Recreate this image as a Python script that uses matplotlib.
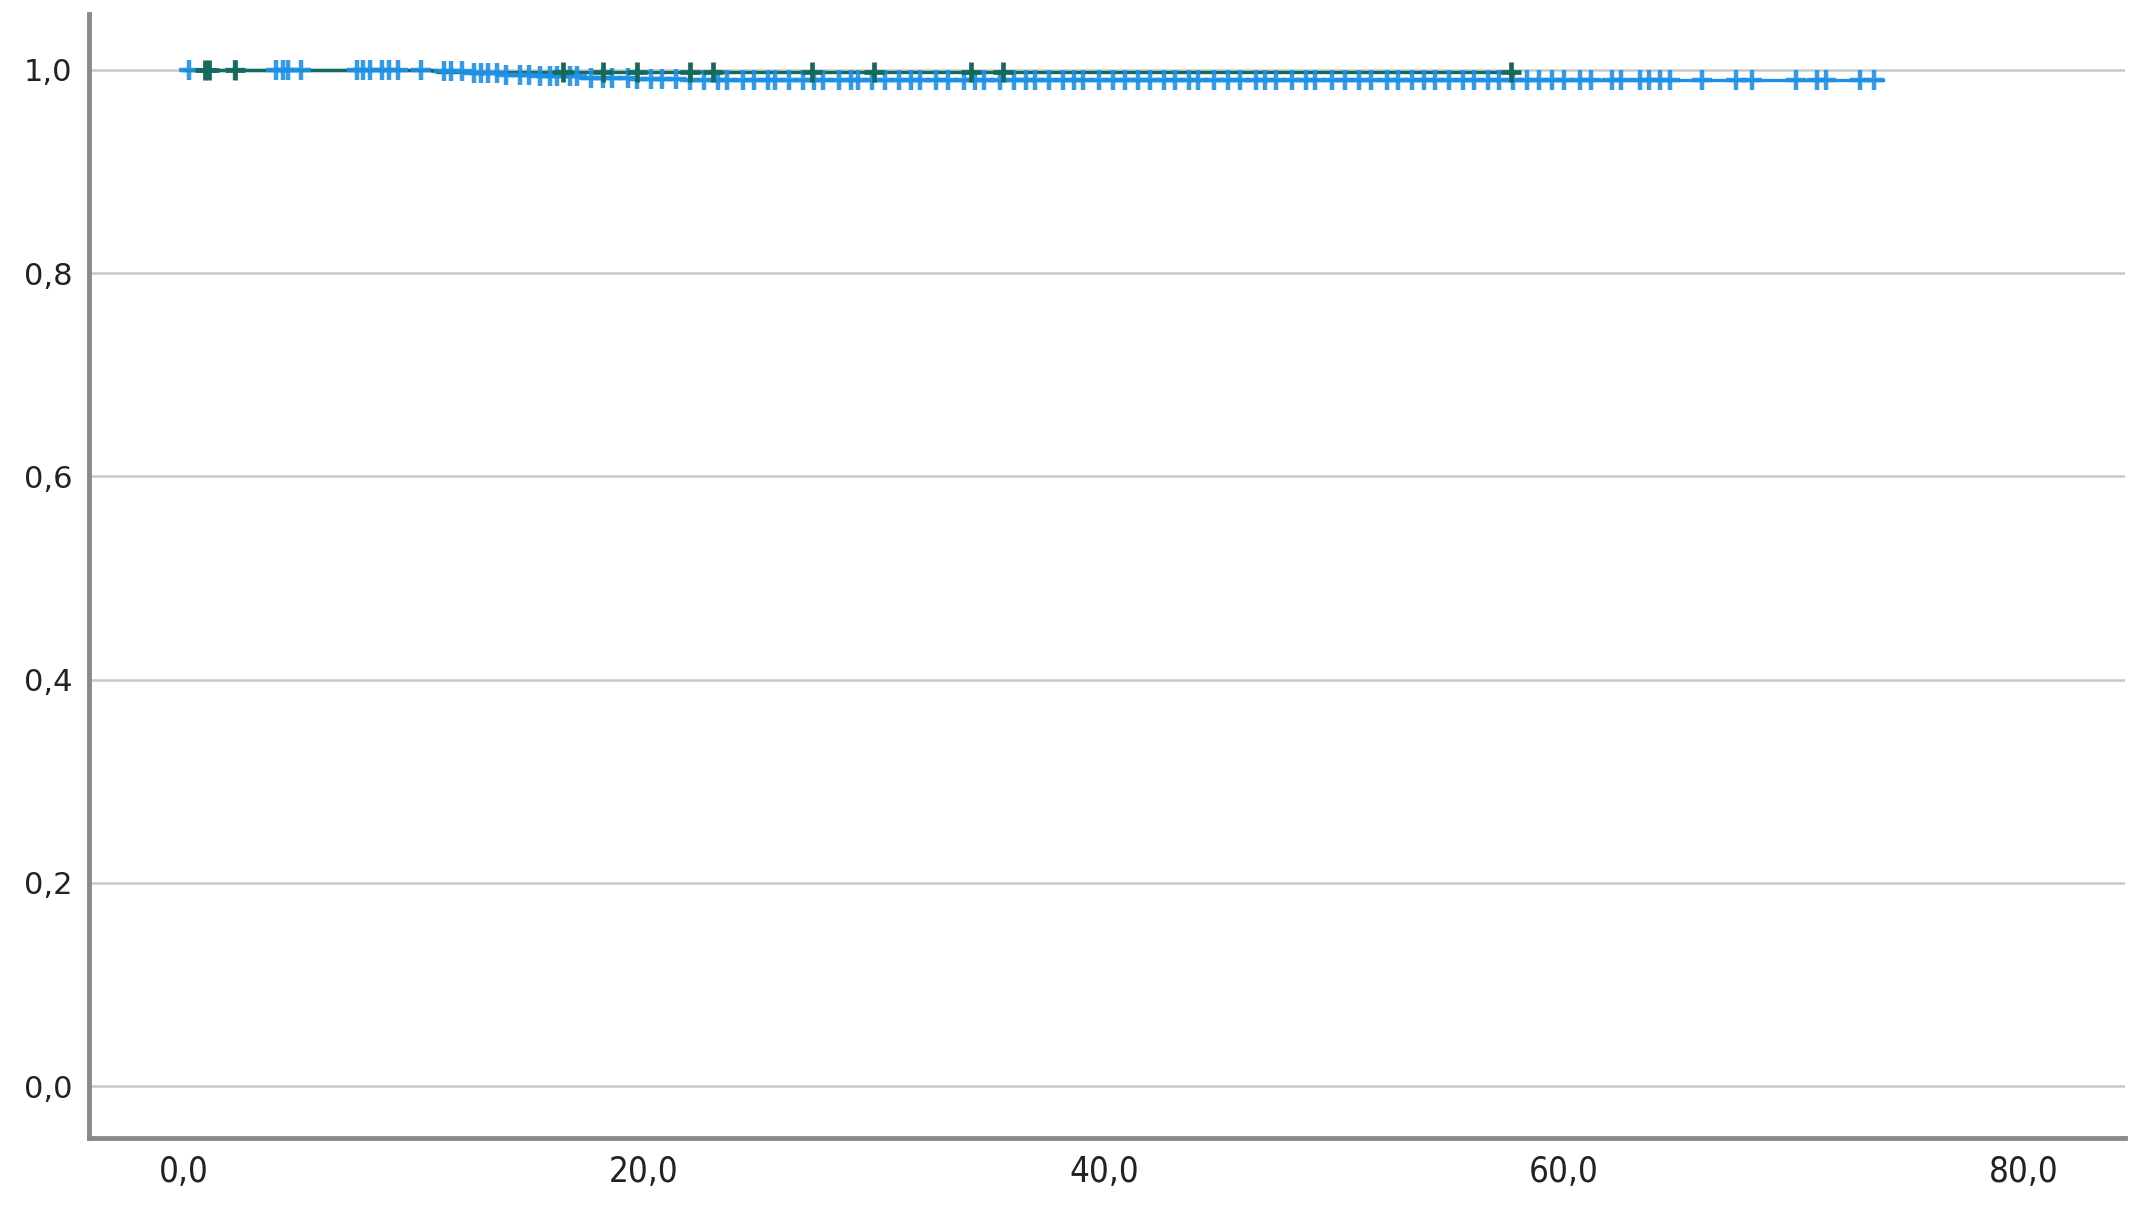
import numpy as np
import matplotlib
matplotlib.use("Agg")
import matplotlib.pyplot as plt
from matplotlib.ticker import FuncFormatter

# ---- data (Kaplan-Meier style survival, two groups) ----
blue_event_times = [10.8, 12.4, 13.9, 15.3, 17.2, 19.5, 21.8]
blue_event_surv = [0.9985, 0.997, 0.9955, 0.994, 0.9925, 0.991, 0.990]
blue_censor = [0.2, 2.2, 4.0, 4.3, 4.5, 5.1, 7.5, 7.8, 8.1, 8.6, 8.9, 9.3, 10.3,
               11.3, 11.6, 12.1, 12.6, 12.9, 13.2, 13.6, 14.0, 14.6, 15.0, 15.5,
               15.9, 16.2, 16.8, 17.1, 17.7, 18.2, 18.6, 19.3, 19.7, 20.3, 20.8,
               21.4, 22.0, 22.6, 23.2, 23.6, 24.3, 24.8, 25.4, 25.7, 26.3, 26.9,
               27.4, 27.8, 28.5, 29.0, 29.3, 29.9, 30.5, 31.1, 31.6, 32.0, 32.7,
               33.2, 33.9, 34.4, 34.8, 35.5, 36.1, 36.6, 37.0, 37.6, 38.2, 38.7,
               39.1, 39.8, 40.4, 40.9, 41.5, 42.0, 42.6, 43.1, 43.7, 44.1, 44.8,
               45.4, 45.9, 46.6, 47.0, 47.5, 48.2, 48.8, 49.2, 49.9, 50.5, 51.1,
               51.6, 52.3, 52.8, 53.4, 53.9, 54.4, 55.0, 55.6, 56.1, 56.7, 57.2,
               57.8, 58.4, 58.9, 59.5, 60.0, 60.7, 61.2, 62.1, 62.5, 63.3, 63.7,
               64.2, 64.6, 66.0, 67.5, 68.2, 70.1, 71.0, 71.4, 72.9, 73.5]
blue_end = 73.9

green_event_times = [11.0]
green_event_surv = [0.998]
green_censor = [0.9, 1.1, 2.2, 16.5, 18.2, 19.7, 22.0, 23.0, 27.3, 30.0,
                34.2, 35.6, 57.7]
green_end = 57.7

y_ticks = [0.0, 0.2, 0.4, 0.6, 0.8, 1.0]
x_ticks = [0, 20, 40, 60, 80]

BLUE = "#1e90e6"
GREEN = "#17695c"


def step_series(ev_t, ev_s, end):
    t = np.concatenate([[0.0], ev_t, [end]])
    s = np.concatenate([[1.0], ev_s, [ev_s[-1]]])
    return t, s


def surv_at(ev_t, ev_s, times):
    ev_t = np.asarray(ev_t)
    s_all = np.concatenate([[1.0], ev_s])
    idx = np.searchsorted(ev_t, np.asarray(times), side="right")
    return s_all[idx]


fig = plt.figure(figsize=(21.41, 12.11), dpi=100)
ax = fig.add_axes([0.0416, 0.0603, 0.9509, 0.9281])

ax.set_xlim(-4.13, 84.4)
ax.set_ylim(-0.051, 1.055)

for y in y_ticks:
    ax.axhline(y, color="#c9c9c9", lw=1.8, zorder=0)

bt, bs = step_series(blue_event_times, blue_event_surv, blue_end)
ax.step(bt, bs, where="post", color=BLUE, lw=2.4, zorder=2)
ax.plot(blue_censor, surv_at(blue_event_times, blue_event_surv, blue_censor),
        ls="none", marker="+", ms=15, mew=3.2, color=BLUE, zorder=3, alpha=0.9)

gt, gs = step_series(green_event_times, green_event_surv, green_end)
ax.step(gt, gs, where="post", color=GREEN, lw=2.4, zorder=2.5)
ax.plot(green_censor, surv_at(green_event_times, green_event_surv, green_censor),
        ls="none", marker="+", ms=15, mew=3.4, color=GREEN, zorder=4)

for s in ["top", "right"]:
    ax.spines[s].set_visible(False)
for s in ["left", "bottom"]:
    ax.spines[s].set_color("#8a8a8a")
    ax.spines[s].set_linewidth(3.5)

ax.set_yticks(y_ticks)
ax.set_xticks(x_ticks)
ax.yaxis.set_major_formatter(FuncFormatter(lambda v, p: f"{v:.1f}".replace(".", ",")))
ax.xaxis.set_major_formatter(FuncFormatter(lambda v, p: f"{v:.1f}".replace(".", ",")))
ax.tick_params(axis="both", length=0, colors="#222222")
ax.tick_params(axis="y", labelsize=22, pad=12)
ax.tick_params(axis="x", labelsize=25, pad=12)
for lab in ax.get_yticklabels():
    lab.set_fontweight("medium")
    lab.set_fontfamily("DejaVu Sans")
for lab in ax.get_xticklabels():
    lab.set_fontstretch("condensed")
    lab.set_fontfamily("Liberation Sans Narrow" if False else "DejaVu Sans")

fig.savefig("out.png", dpi=100, facecolor="white")
